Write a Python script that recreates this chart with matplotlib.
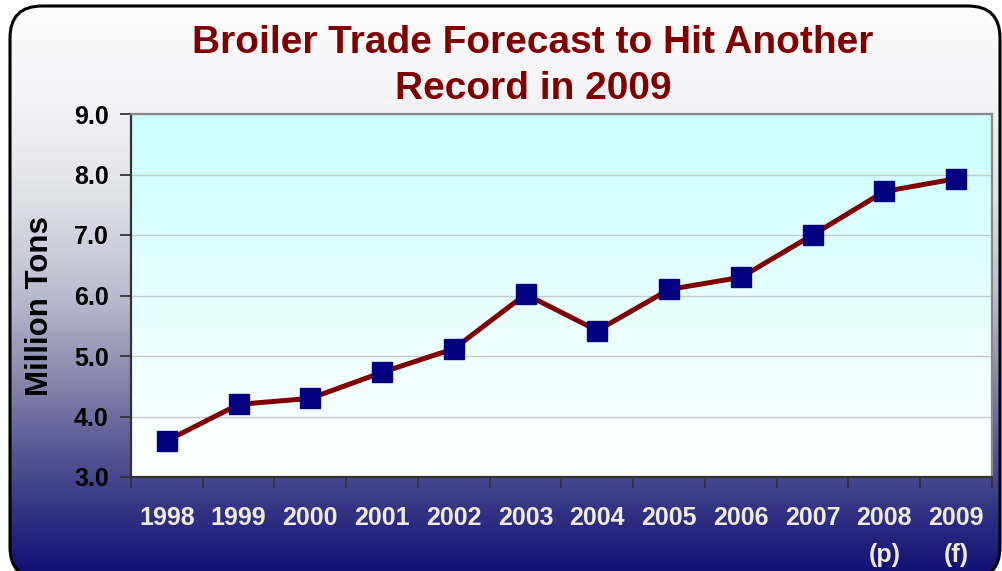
import numpy as np
import matplotlib
matplotlib.use("Agg")
import matplotlib.pyplot as plt
from matplotlib.patches import FancyBboxPatch
from matplotlib.colors import LinearSegmentedColormap

plt.rcParams['font.family'] = ['Liberation Sans', 'DejaVu Sans']

# data
years = ['1998', '1999', '2000', '2001', '2002', '2003', '2004', '2005',
         '2006', '2007', '2008\n(p)', '2009\n(f)']
tons = [3.6, 4.2, 4.3, 4.73, 5.12, 6.02, 5.42, 6.1, 6.3, 7.0, 7.72, 7.93]
yticks = [3.0, 4.0, 5.0, 6.0, 7.0, 8.0, 9.0]

W, H = 1003, 571
fig = plt.figure(figsize=(W / 100, H / 100), dpi=100)

# fondo con degradado y borde redondeado
bg = fig.add_axes([0, 0, 1, 1])
bg.set_xlim(0, W)
bg.set_ylim(0, H)
bg.axis('off')
stops = [(0.0, (253, 253, 253)), (100 / H, (244, 244, 247)), (200 / H, (224, 224, 232)),
         (300 / H, (185, 185, 206)), (380 / H, (135, 135, 172)), (450 / H, (88, 88, 150)),
         (500 / H, (58, 58, 135)), (1.0, (18, 18, 118))]
cmap_bg = LinearSegmentedColormap.from_list('bg', [(p, tuple(c / 255 for c in rgb)) for p, rgb in stops])
grad = np.linspace(0, 1, 400).reshape(-1, 1)
im = bg.imshow(grad, cmap=cmap_bg, aspect='auto', extent=[0, W, 0, H], origin='upper')
frame = FancyBboxPatch((10, -8), 990, 573, boxstyle='round,pad=0,rounding_size=32',
                       facecolor='none', edgecolor='black', linewidth=2.2, zorder=3)
bg.add_patch(frame)
im.set_clip_path(frame)

# area del grafico
ax = fig.add_axes([131 / W, 1 - 477 / H, (992 - 131) / W, (477 - 114) / H])
cmap_ax = LinearSegmentedColormap.from_list('ax', [(0.8, 1.0, 1.0), (1.0, 1.0, 1.0)])
ax.imshow(np.linspace(0, 1, 200).reshape(-1, 1), cmap=cmap_ax, aspect='auto',
          extent=[0, 1, 0, 1], transform=ax.transAxes, zorder=0)

x = np.arange(len(years))
ax.plot(x, tons, color='#800000', linewidth=3.6, zorder=3)
ax.plot(x, tons, linestyle='none', marker='s', markersize=14, color='#000080',
        markeredgecolor='#000080', zorder=4)

ax.set_xlim(-0.5, len(years) - 0.5)
ax.set_ylim(3, 9)
ax.set_yticks(yticks)
ax.set_yticklabels([f'{v:.1f}' for v in yticks])
ax.yaxis.grid(True, color='#c8c8c8', linewidth=1)
ax.set_axisbelow(True)

ax.set_xticks(np.arange(-0.5, len(years), 1))
ax.set_xticklabels([])
ax.set_xticks(x, minor=True)
ax.set_xticklabels(years, minor=True)
ax.tick_params(axis='x', which='major', length=8, width=1.3, color='#333333', direction='out')
ax.tick_params(axis='x', which='minor', length=0, pad=21, labelsize=18, labelcolor='#eeeadf')
ax.tick_params(axis='y', length=8, width=1.3, color='#333333', pad=8, labelsize=18)
for lab in ax.get_xticklabels(minor=True):
    lab.set_fontweight('bold')
    lab.set_linespacing(1.65)
for lab in ax.get_yticklabels():
    lab.set_fontweight('bold')

for s in ['left', 'bottom']:
    ax.spines[s].set_color('#333333')
    ax.spines[s].set_linewidth(1.6)
for s in ['top', 'right']:
    ax.spines[s].set_color('#888888')
    ax.spines[s].set_linewidth(1.6)

fig.text(40 / W, 1 - 306 / H, 'Million Tons', rotation=90, ha='center', va='center',
         fontsize=22.5, fontweight='bold', color='black')
fig.text(533 / W, 1 - 66 / H, 'Broiler Trade Forecast to Hit Another\nRecord in 2009',
         ha='center', va='center', fontsize=28, fontweight='bold', color='#800000',
         linespacing=1.35)

fig.savefig('out.png', dpi=100)
